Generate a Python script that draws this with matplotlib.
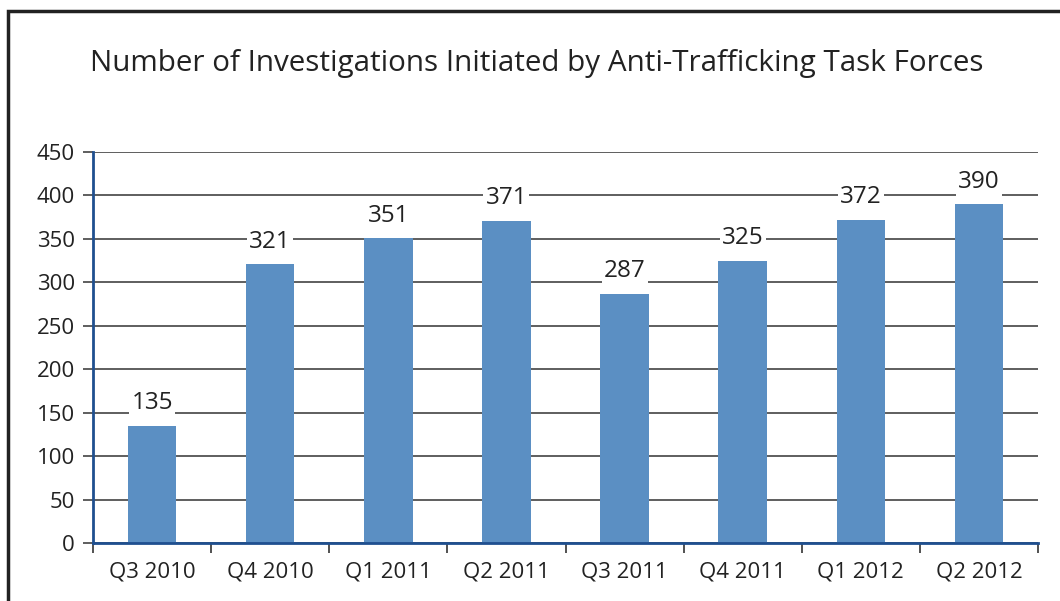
import matplotlib.pyplot as plt
from matplotlib.patches import Rectangle

# quarters and number of investigations started
quarters = ['Q3 2010', 'Q4 2010', 'Q1 2011', 'Q2 2011',
            'Q3 2011', 'Q4 2011', 'Q1 2012', 'Q2 2012']
investigations = [135, 321, 351, 371, 287, 325, 372, 390]
y_ticks = [0, 50, 100, 150, 200, 250, 300, 350, 400, 450]

plt.rcParams['font.family'] = ['Open Sans', 'DejaVu Sans']

fig = plt.figure(figsize=(10.6, 6.01), dpi=100)
ax = fig.add_axes([93 / 1060, 1 - 543 / 601, (1038 - 93) / 1060, (543 - 152) / 601])

x = list(range(len(quarters)))
ax.bar(x, investigations, width=0.41, color='#5b8fc3', zorder=2)

for xi, v in zip(x, investigations):
    ax.text(xi, v + 12, str(v), ha='center', va='bottom', fontsize=17.5,
            color='#222222', zorder=4,
            bbox=dict(facecolor='white', edgecolor='none', pad=1.5))

ax.set_xlim(-0.5, len(quarters) - 0.5)
ax.set_ylim(0, 450)
ax.set_yticks(y_ticks)
ax.yaxis.grid(True, color='#333333', linewidth=1.1, zorder=0)
ax.set_axisbelow(True)

# category labels centred, ticks between categories
ax.set_xticks(x)
ax.set_xticklabels(quarters, fontsize=16, color='#222222')
ax.tick_params(axis='x', length=0, pad=13)
ax.set_xticks([i - 0.5 for i in range(len(quarters) + 1)], minor=True)
ax.tick_params(axis='x', which='minor', length=7, width=1.2, color='#333333', direction='out')
ax.tick_params(axis='y', length=7, width=1.1, color='#333333', labelsize=16,
               labelcolor='#222222', pad=6)

for s in ['top', 'right']:
    ax.spines[s].set_visible(False)
for s in ['left', 'bottom']:
    ax.spines[s].set_color('#1f4f8f')
    ax.spines[s].set_linewidth(2)
    ax.spines[s].set_zorder(3)

fig.text(537 / 1060, 1 - 63 / 601,
         'Number of Investigations Initiated by Anti-Trafficking Task Forces',
         ha='center', va='center', fontsize=21.3, color='#222222')

# outer frame around the whole graphic
fig.patches.append(Rectangle((8 / 1060, -0.05), 1.1, 1 - 11 / 601 + 0.05,
                             transform=fig.transFigure, fill=False,
                             edgecolor='#222222', linewidth=2.5))

fig.savefig('out.png', dpi=100)
